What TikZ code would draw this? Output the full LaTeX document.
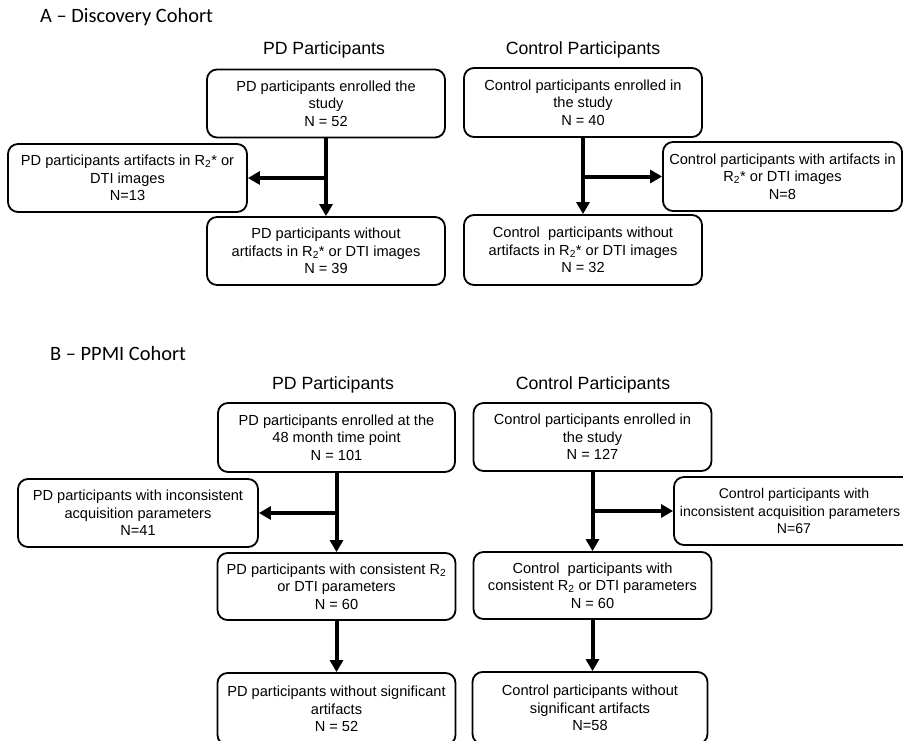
\documentclass[tikz,border=0pt]{standalone}
\usepackage{fontspec}
\setmainfont{Liberation Sans}
\newfontfamily\cohortfont{Carlito}
\usetikzlibrary{positioning,arrows.meta}
\tikzset{
  stage/.style={draw, rounded corners=10pt, line width=1.8pt, minimum width=238pt,
    minimum height=68pt, inner sep=0pt, align=center,
    font=\fontsize{14.6}{17.5}\selectfont},
  heading/.style={font=\fontsize{17.7}{21}\selectfont},
  cohort/.style={anchor=west, inner sep=0pt, font=\cohortfont\fontsize{20.4}{24}\selectfont},
  flow/.style={line width=4pt, -{Triangle[length=12pt,width=13pt]}}
}
\begin{document}
\begin{tikzpicture}[x=1pt,y=-1pt]
    \useasboundingbox (0,0) rectangle (903,740);
    \clip (0,0) rectangle (903,740);
        \node(cohA) [cohort] at (40,17) {A – Discovery Cohort};
        \node(hpdA) [heading] at (324,50) {PD Participants};
        \node(hctA) [heading] at (583,50) {Control Participants};
        \node(pdA1) [stage] at (326,103.5) {PD participants enrolled the\\study\\N = 52};
        \node(pdA2) [stage,minimum width=239pt] at (127.5,178) {PD participants artifacts in R\textsubscript{2}* or\\DTI images\\N=13};
        \node(pdA3) [stage] at (326,251) {PD participants without\\artifacts in R\textsubscript{2}* or DTI images\\N = 39};
        \node(ctA1) [stage,minimum height=69pt] at (583,102.5) {Control participants enrolled in\\the study\\N = 40};
        \node(ctA2) [stage,minimum width=239pt,minimum height=69pt] at (782.5,176.5) {Control participants with artifacts in\\R\textsubscript{2}* or DTI images\\N=8};
        \node(ctA3) [stage,minimum height=70pt] at (583,250) {Control\ \ participants without\\artifacts in R\textsubscript{2}* or DTI images\\N = 32};
        \node(cohB) [cohort] at (50,353) {B – PPMI Cohort};
        \node(hpdB) [heading] at (333,385) {PD Participants};
        \node(hctB) [heading] at (593,385) {Control Participants};
        \node(pdB1) [stage,minimum width=237pt,minimum height=69pt] at (336.5,437.5) {PD participants enrolled at the\\48 month time point\\N = 101};
        \node(pdB2) [stage,minimum width=240pt] at (138,513) {PD participants with inconsistent\\acquisition parameters\\N=41};
        \node(pdB3) [stage,minimum height=67pt] at (336.5,586.5) {PD participants with consistent R\textsubscript{2}\\or DTI parameters\\N = 60};
        \node(pdB4) [stage,minimum height=72pt] at (336.5,709) {PD participants without significant\\artifacts\\N = 52};
        \node(ctB1) [stage] at (592.5,437) {Control participants enrolled in\\the study\\N = 127};
        \node(ctB2) [stage,minimum width=240pt,font=\fontsize{14.1}{17.5}\selectfont] at (794,511) {Control participants with\\\hspace*{-8pt}inconsistent acquisition parameters\\N=67};
        \node(ctB3) [stage,minimum height=67pt] at (592.5,585.5) {Control\ \ participants with\\consistent R\textsubscript{2} or DTI parameters\\N = 60};
        \node(ctB4) [stage,minimum width=235pt,minimum height=72pt] at (590,708) {Control participants without\\significant artifacts\\N=58};
        \draw[flow] (pdA1) -- (pdA1.south |- pdA3.north);
        \draw[flow] (pdA1.south |- pdA2.east) -- (pdA2.east);
        \draw[flow] (ctA1) -- (ctA1.south |- ctA3.north);
        \draw[flow] (ctA1.south |- ctA2.west) -- (ctA2.west);
        \draw[flow] (pdB1) -- (pdB1.south |- pdB3.north);
        \draw[flow] (pdB1.south |- pdB2.east) -- (pdB2.east);
        \draw[flow] (pdB3) -- (pdB3.south |- pdB4.north);
        \draw[flow] (ctB1) -- (ctB1.south |- ctB3.north);
        \draw[flow] (ctB1.south |- ctB2.west) -- (ctB2.west);
        \draw[flow] (ctB3) -- (ctB3.south |- ctB4.north);
    \end{tikzpicture}
\end{document}
